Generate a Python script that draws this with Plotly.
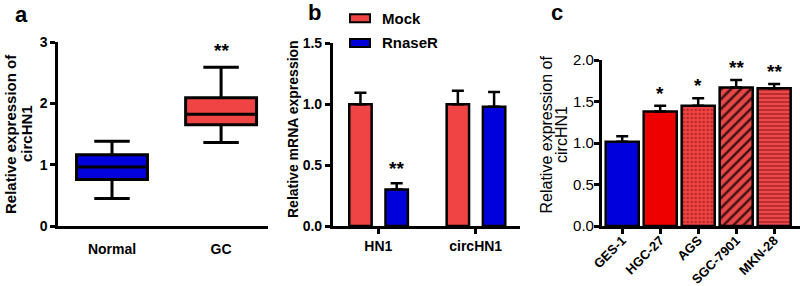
import plotly.graph_objects as go

# ---------- data ----------
# panel a (box plot summary)
box_groups = ["Normal", "GC"]
box_q1 = [0.76, 1.65]
box_median = [0.96, 1.82]
box_q3 = [1.16, 2.09]
box_low = [0.45, 1.36]
box_high = [1.38, 2.59]
box_colors = ["#0000dd", "#f04444"]
box_sig = ["", "**"]

# panel b (grouped bars)
genes = ["HN1", "circHN1"]
mock_vals = [1.0, 1.0]
mock_err = [0.094, 0.11]
rnase_vals = [0.30, 0.98]
rnase_err = [0.05, 0.12]
rnase_sig = ["**", ""]

# panel c (cell lines)
cells = ["GES-1", "HGC-27", "AGS", "SGC-7901", "MKN-28"]
cell_vals = [1.015, 1.38, 1.45, 1.67, 1.66]
cell_err = [0.065, 0.07, 0.09, 0.09, 0.05]
cell_sig = ["", "*", "*", "**", "**"]
cell_colors = ["#0000dd", "#ee0000", "#f04444", "#e84848", "#ea4a4a"]
cell_patterns = ["", "", ".", "/", "-"]
cell_pattern_fg = ["#0000dd", "#ee0000", "#b82828", "#3a1010", "#a01818"]
cell_pattern_size = [6, 6, 4, 7, 4]
cell_pattern_solidity = [0.3, 0.3, 0.3, 0.35, 0.3]

FONT = "Liberation Sans, Arial, sans-serif"
W, H = 800, 286
LW = 2.5


def px(x):
    return x / W


def py(y):
    return 1 - y / H


fig = go.Figure()

# ---------- panel a ----------
for i, g in enumerate(box_groups):
    fig.add_trace(go.Box(
        x=[g], q1=[box_q1[i]], median=[box_median[i]], q3=[box_q3[i]],
        lowerfence=[box_low[i]], upperfence=[box_high[i]],
        fillcolor=box_colors[i], line=dict(color="black", width=3),
        width=0.65, whiskerwidth=0.5, boxpoints=False,
        xaxis="x", yaxis="y", showlegend=False, hoverinfo="skip",
    ))
for i, g in enumerate(box_groups):
    if box_sig[i]:
        fig.add_annotation(x=g, y=box_high[i], xref="x", yref="y", text="<b>" + box_sig[i] + "</b>",
                           showarrow=False, yanchor="bottom", yshift=4,
                           font=dict(family=FONT, size=19, color="black"))

# ---------- panel b ----------
fig.add_trace(go.Bar(
    x=genes, y=mock_vals, width=0.23, offset=-0.298,
    marker=dict(color="#f04444", line=dict(color="black", width=LW)),
    error_y=dict(type="data", symmetric=False, array=mock_err, arrayminus=[0] * len(genes),
                 color="black", thickness=LW, width=6),
    xaxis="x2", yaxis="y2", showlegend=False, name="Mock",
))
fig.add_trace(go.Bar(
    x=genes, y=rnase_vals, width=0.23, offset=0.074,
    marker=dict(color="#0000dd", line=dict(color="black", width=LW)),
    error_y=dict(type="data", symmetric=False, array=rnase_err, arrayminus=[0] * len(genes),
                 color="black", thickness=LW, width=6),
    xaxis="x2", yaxis="y2", showlegend=False, name="RnaseR",
))
for i, g in enumerate(genes):
    if rnase_sig[i]:
        fig.add_annotation(x=i + 0.189, y=rnase_vals[i] + rnase_err[i], xref="x2", yref="y2",
                           text="<b>" + rnase_sig[i] + "</b>", showarrow=False, yanchor="bottom", yshift=2,
                           font=dict(family=FONT, size=19, color="black"))

# ---------- panel c ----------
for i, c in enumerate(cells):
    pat = dict(shape=cell_patterns[i])
    if cell_patterns[i]:
        pat.update(fgcolor=cell_pattern_fg[i], bgcolor=cell_colors[i], fillmode="replace",
                   fgopacity=1, size=cell_pattern_size[i], solidity=cell_pattern_solidity[i])
    fig.add_trace(go.Bar(
        x=[c], y=[cell_vals[i]], width=0.87,
        marker=dict(color=cell_colors[i], line=dict(color="black", width=LW), pattern=pat),
        error_y=dict(type="data", symmetric=False, array=[cell_err[i]], arrayminus=[0],
                     color="black", thickness=LW, width=6),
        xaxis="x3", yaxis="y3", showlegend=False, name=c,
    ))
for i, c in enumerate(cells):
    if cell_sig[i]:
        fig.add_annotation(x=c, y=cell_vals[i] + cell_err[i], xref="x3", yref="y3",
                           text="<b>" + cell_sig[i] + "</b>", showarrow=False, yanchor="bottom", yshift=0,
                           font=dict(family=FONT, size=19, color="black"))

axis_common = dict(showline=True, linecolor="black", linewidth=LW, showgrid=False, zeroline=False,
                   ticks="outside", tickcolor="black", tickwidth=LW, ticklen=5, automargin=False)

fig.update_layout(
    width=W, height=H, margin=dict(l=0, r=0, t=0, b=0),
    paper_bgcolor="white", plot_bgcolor="white", barmode="overlay",
    font=dict(family=FONT, color="black"),
    xaxis=dict(domain=[px(58), px(268)], anchor="y", range=[-0.495, 1.43], type="category",
               showline=True, linecolor="black", linewidth=LW, showgrid=False, ticks="", automargin=False,
               ticklabelstandoff=8,
               tickfont=dict(family=FONT, size=14, color="black", weight="bold")),
    yaxis=dict(domain=[py(226), py(42)], anchor="x", range=[0, 3], tickvals=[0, 1, 2, 3],
               tickfont=dict(family=FONT, size=14, color="black", weight="bold"), **axis_common),
    xaxis2=dict(domain=[px(332.7), px(520)], anchor="y2", range=[-0.468, 1.455], type="category",
                tickfont=dict(family=FONT, size=14, color="black", weight="bold"), **axis_common),
    yaxis2=dict(domain=[py(226), py(43.3)], anchor="x2", range=[0, 1.5], tickvals=[0, 0.5, 1.0, 1.5],
                tickformat=".1f",
                tickfont=dict(family=FONT, size=14, color="black", weight="bold"), **axis_common),
    xaxis3=dict(domain=[px(601.7), 1.0], anchor="y3", range=[-0.54, 4.68], type="category",
                tickangle=-45, ticklabelstandoff=-6,
                tickfont=dict(family=FONT, size=13, color="black", weight="bold"), **axis_common),
    yaxis3=dict(domain=[py(226), py(60)], anchor="x3", range=[0, 2], tickvals=[0, 0.5, 1.0, 1.5, 2.0],
                tickformat=".1f", ticklabelstandoff=-3,
                tickfont=dict(family=FONT, size=15, color="black"), **axis_common),
)

# y-axis titles (one annotation per line for exact spacing)
titles = [
    ("<b>Relative expression of</b>", 10, 134, 15),
    ("<b>circHN1</b>", 26, 134, 15),
    ("<b>Relative mRNA expression</b>", 293, 129, 14),
    ("Relative expression of", 545.5, 135, 16),
    ("circHN1", 561, 135, 16),
]
for txt, xx, yy, fs in titles:
    fig.add_annotation(x=px(xx), y=py(yy), xref="paper", yref="paper", textangle=-90, showarrow=False,
                       text=txt, font=dict(family=FONT, size=fs, color="black"),
                       xanchor="center", yanchor="middle")

# panel letters
for letter, xx, yy in [("a", 21, 14), ("b", 314, 13), ("c", 557, 13)]:
    fig.add_annotation(x=px(xx), y=py(yy), xref="paper", yref="paper", showarrow=False,
                       text="<b>" + letter + "</b>", font=dict(family=FONT, size=22, color="black"),
                       xanchor="center", yanchor="middle")

# legend (panel b)
legend_items = [("Mock", "#f04444", 18.3), ("RnaseR", "#0000dd", 43)]
for name, col, yc in legend_items:
    fig.add_shape(type="rect", xref="paper", yref="paper", x0=px(350), x1=px(370),
                  y0=py(yc + 4), y1=py(yc - 4), fillcolor=col, line=dict(color="black", width=2))
    fig.add_annotation(x=px(380), y=py(yc), xref="paper", yref="paper", showarrow=False,
                       text="<b>" + name + "</b>", xanchor="left", yanchor="middle",
                       font=dict(family=FONT, size=15, color="black"))

fig.write_html("out.html", config={"displayModeBar": False},
               post_script="document.body.style.margin='0px';document.body.style.padding='0px';")
